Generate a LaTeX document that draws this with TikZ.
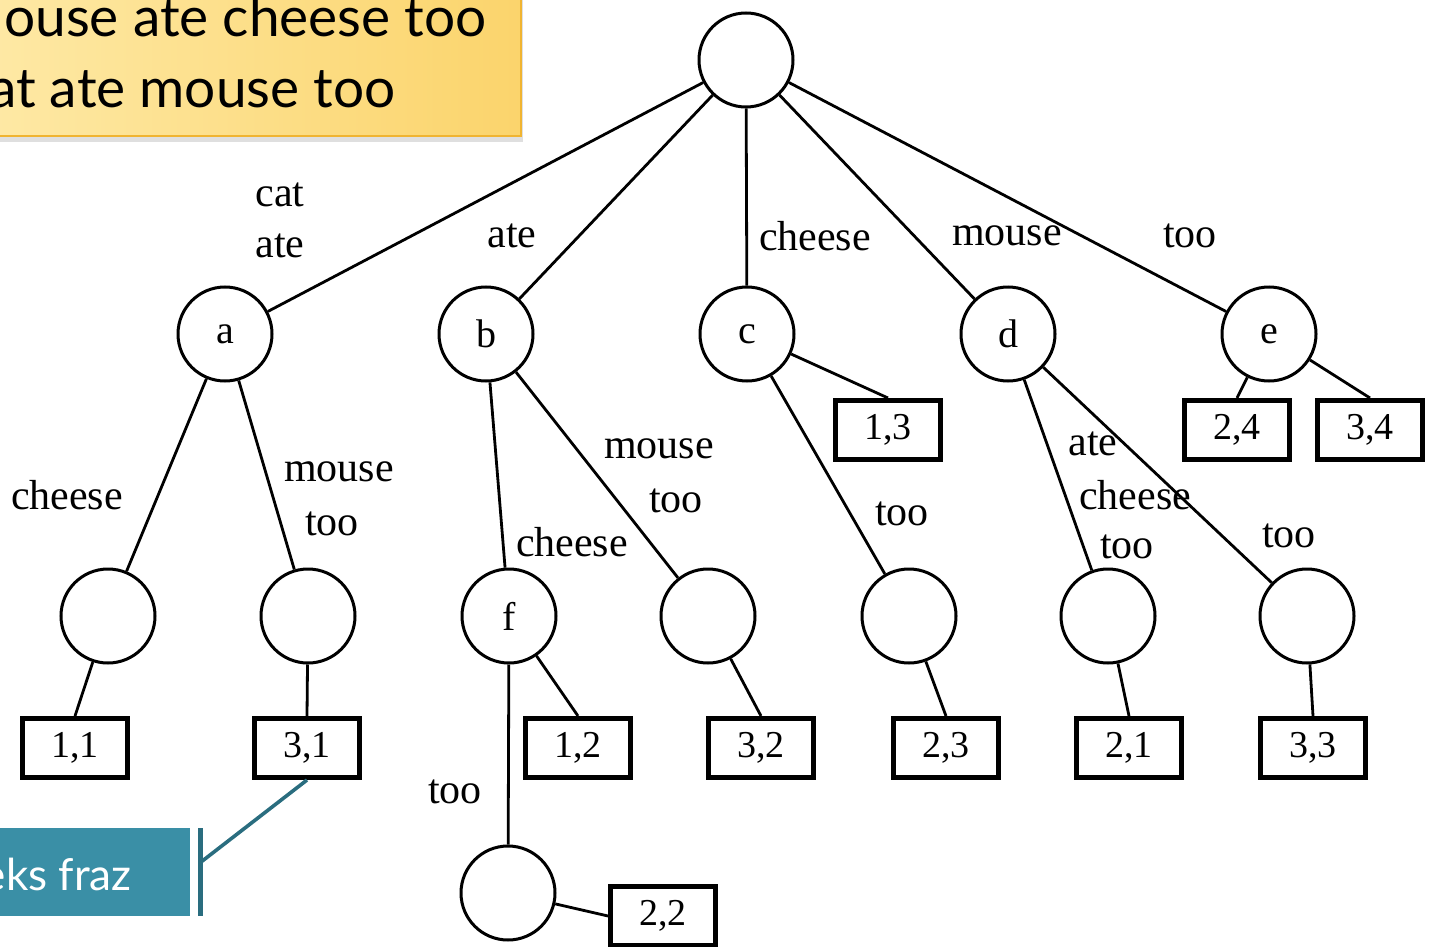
\documentclass[tikz,border=0pt]{standalone}
\usepackage{fontspec}
\setmainfont{Liberation Serif}
\newfontfamily\calloutfont{Lato}
\usetikzlibrary{shadows}
\definecolor{notefill}{HTML}{FEEAA8}
\definecolor{noteedge}{HTML}{FBD46C}
\definecolor{noteline}{HTML}{F0B431}
\definecolor{tealfill}{HTML}{3A8FA6}
\definecolor{tealdark}{HTML}{2A6D7F}
\begin{document}
\begin{tikzpicture}[x=0.5pt,y=-0.5pt,
  vert/.style={circle,draw,line width=1.5pt,minimum size=47pt,inner sep=0pt,
    font=\fontsize{20}{24}\selectfont},
  leaf/.style={rectangle,draw,line width=2.5pt,minimum width=52.5pt,
    minimum height=29.5pt,inner sep=0pt,font=\fontsize{19}{22}\selectfont},
  edge/.style={line width=1.4pt},
  lbl/.style={inner sep=0pt,font=\fontsize{21}{24}\selectfont},
  notetext/.style={inner sep=0pt,anchor=base east,
    font=\calloutfont\fontsize{27.5}{32}\selectfont}]
\useasboundingbox (0,0) rectangle (1435,947);
\clip (0,0) rectangle (1435,947);

% internal vertices of the trie
\node[vert] (r) at (746,60) {};
\node[vert] (a) at (225,334) {a};
\node[vert] (b) at (486,334) {b};
\node[vert] (c) at (747,334) {c};
\node[vert] (d) at (1008,334) {d};
\node[vert] (e) at (1269,334) {e};
\node[vert] (n1) at (108,616) {};
\node[vert] (n2) at (308,616) {};
\node[vert] (f) at (509,616) {f};
\node[vert] (n4) at (708,616) {};
\node[vert] (n5) at (909,616) {};
\node[vert] (n6) at (1108,616) {};
\node[vert] (n7) at (1307,616) {};
\node[vert] (n8) at (508,893) {};

% leaves: (phrase, position)
\node[leaf] (l11) at (75,748) {1,1};
\node[leaf] (l31) at (307,748) {3,1};
\node[leaf] (l12) at (578,748) {1,2};
\node[leaf] (l32) at (761,748) {3,2};
\node[leaf] (l23) at (946,748) {2,3};
\node[leaf] (l21) at (1129,748) {2,1};
\node[leaf] (l33) at (1313,748) {3,3};
\node[leaf] (l13) at (888,430) {1,3};
\node[leaf] (l24) at (1237,430) {2,4};
\node[leaf] (l34) at (1370,430) {3,4};
\node[leaf] (l22) at (663,916) {2,2};

% edges
\draw[edge] (r) -- (a);
\draw[edge] (r) -- (b);
\draw[edge] (r) -- (c);
\draw[edge] (r) -- (d);
\draw[edge] (r) -- (e);
\draw[edge] (a) -- (n1);
\draw[edge] (a) -- (n2);
\draw[edge] (b) -- (f);
\draw[edge] (b) -- (n4);
\draw[edge] (c) -- (l13.north);
\draw[edge] (c) -- (n5);
\draw[edge] (d) -- (n6);
\draw[edge] (d) -- (n7);
\draw[edge] (e) -- (l24.north);
\draw[edge] (e) -- (l34.north);
\draw[edge] (n1) -- (l11.north);
\draw[edge] (n2) -- (l31.north);
\draw[edge] (f) -- (l12.north);
\draw[edge] (n4) -- (l32.north);
\draw[edge] (n5) -- (l23.north);
\draw[edge] (n6) -- (l21.north);
\draw[edge] (n7) -- (l33.north);
\draw[edge] (f) -- (n8);
\draw[edge] (n8) -- (l22.west);

% edge labels
\node[lbl] (t1) at (280,195) {cat};
\node[lbl] (t2) at (280,246) {ate};
\node[lbl] (t3) at (512,236) {ate};
\node[lbl] (t4) at (815,236) {cheese};
\node[lbl] (t5) at (1007,236) {mouse};
\node[lbl] (t6) at (1190,236) {too};
\node[lbl] (t7) at (67,495) {cheese};
\node[lbl] (t8) at (339,472) {mouse};
\node[lbl] (t9) at (332,524) {too};
\node[lbl] (t10) at (659,449) {mouse};
\node[lbl] (t11) at (676,501) {too};
\node[lbl] (t12) at (572,542) {cheese};
\node[lbl] (t13) at (902,514) {too};
\node[lbl] (t14) at (1093,444) {ate};
\node[lbl] (t15) at (1135,495) {cheese};
\node[lbl] (t16) at (1127,547) {too};
\node[lbl] (t17) at (1289,536) {too};
\node[lbl] (t18) at (455,792) {too};

% yellow note with the phrases
\path[shading=axis,left color=notefill,right color=noteedge,draw=noteline,line width=1.2pt,
  drop shadow={shadow xshift=1pt,shadow yshift=-3pt,opacity=0.25}]
  (-40,-40) rectangle (521,136);
\node[notetext] (p1) at (487,37) {mouse ate cheese too};
\node[notetext] (p2) at (396,108) {cat ate mouse too};

% teal callout
\fill[tealfill] (-40,828) rectangle (190,916);
\node[inner sep=0pt,anchor=base east,text=white,
  font=\calloutfont\fontsize{22}{26}\selectfont] (idx) at (132,890) {Indeks fraz};
\draw[tealdark,line width=2.5pt] (200,828) -- (200,916);
\coordinate (cp) at (201,862);
\draw[tealdark,line width=1.8pt] (cp) -- (l31.south);
\end{tikzpicture}
\end{document}
